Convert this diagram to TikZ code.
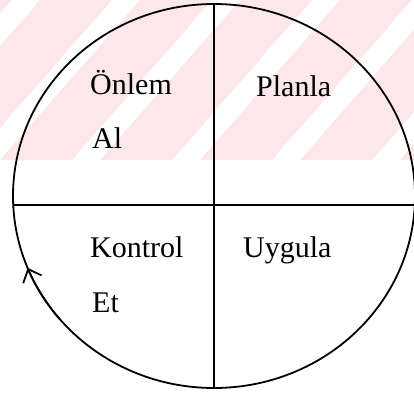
\documentclass[tikz,border=0pt]{standalone}
\usepackage{fontspec}
\setmainfont{Liberation Serif}
\usetikzlibrary{arrows.meta}
\definecolor{wmpink}{HTML}{FCE8EB}
\tikzset{
  phase/.style={anchor=base west, inner sep=0pt, font=\fontsize{30}{36}\selectfont},
  rim/.style={line width=1.8pt},
}
\begin{document}
\begin{tikzpicture}[x=1pt, y=1pt, line join=round, >={Straight Barb[length=11pt, width=20pt]}]
			\useasboundingbox (0,0) rectangle (414,394);
			% faint watermark stripes behind the upper half
			\begin{scope}
				\clip (0,234) rectangle (414,394);
				\foreach \s in {-200,-100,...,500}
					\fill[wmpink] (\s,234) -- ++(72,0) -- ++(140,160) -- ++(-72,0) -- cycle;
			\end{scope}
			\coordinate (O) at (214,198);
			\coordinate (T) at (214,390);
			\coordinate (B) at (214,7);
			\coordinate (L) at (14,189);
			\coordinate (R) at (414,189);
			\draw[rim] (O) ellipse[x radius=201, y radius=192];
			\draw[rim] (T)--(B) (L)--(R);
			\draw[rim, ->] (O) ++(220:201 and 192) arc[start angle=220, end angle=202, x radius=201, y radius=192];
			\node[phase] (onlem) at (90,299) {Önlem};
			\node[phase] (al) at (92,246) {Al};
			\node[phase] (planla) at (256,297) {Planla};
			\node[phase] (kontrol) at (90,137) {Kontrol};
			\node[phase] (et) at (92,82) {Et};
			\node[phase] (uygula) at (243,137) {Uygula};
		\end{tikzpicture}
\end{document}
